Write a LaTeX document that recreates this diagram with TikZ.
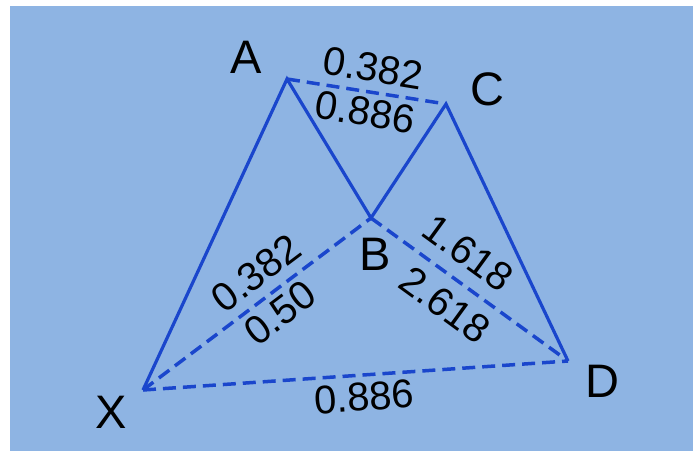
\documentclass[tikz,border=0pt]{standalone}
\usepackage{fontspec}
\setmainfont{Liberation Sans}
\usepackage{xcolor}
\definecolor{bgblue}{HTML}{8EB4E3}
\definecolor{legblue}{HTML}{1A46CC}

\begin{document}
\begin{tikzpicture}[x=1pt,y=-1pt,line join=miter,
    leg/.style={legblue,line width=3.2pt},
    fib/.style={legblue,line width=3.5pt,dash pattern=on 13pt off 7pt},
    pt/.style={font=\fontsize{47}{47}\selectfont,inner sep=0pt},
    ratio/.style={font=\fontsize{40}{40}\selectfont,inner sep=0pt}]
  \fill[white] (0,0) rectangle (693,451);
  \fill[bgblue] (10,6) rectangle (693,451);
  \coordinate (X) at (143,390);
  \coordinate (A) at (287,79);
  \coordinate (B) at (371,218);
  \coordinate (C) at (446,104);
  \coordinate (D) at (568,361);
  \draw[fib] (A) -- (C);
  \draw[fib] (X) -- (B);
  \draw[fib] (B) -- (D);
  \draw[fib] (X) -- (D);
  \draw[leg] (X) -- (A) -- (B) -- (C) -- (D);
  \node[pt] (lA) at (246,57) {A};
  \node[pt] (lB) at (375,254) {B};
  \node[pt] (lC) at (487,89) {C};
  \node[pt] (lX) at (111,412) {X};
  \node[pt] (lD) at (602,381) {D};
  \node[ratio,rotate=-9.3] (ac1) at (373,68) {0.382};
  \node[ratio,rotate=-9.3] (ac2) at (365,112) {0.886};
  \node[ratio,rotate=37] (xb1) at (256,273) {0.382};
  \node[ratio,rotate=37] (xb2) at (280,313) {0.50};
  \node[ratio,rotate=-36] (bd1) at (468,253) {1.618};
  \node[ratio,rotate=-36] (bd2) at (445,305) {2.618};
  \node[ratio,rotate=3.9] (xd) at (364,397) {0.886};
\end{tikzpicture}
\end{document}
